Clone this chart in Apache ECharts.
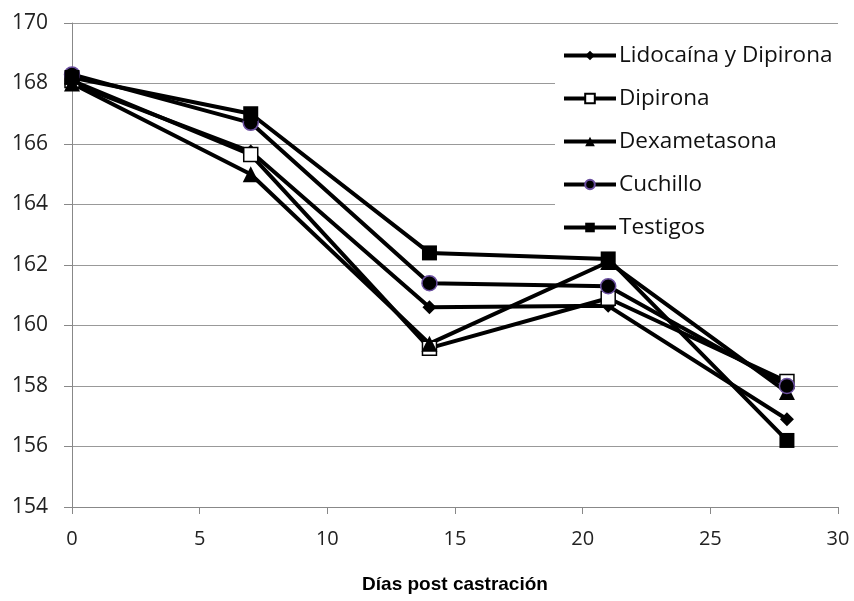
<!DOCTYPE html>
<html><head><meta charset="utf-8">
<script src="https://cdn.jsdelivr.net/npm/echarts@6/dist/echarts.min.js"></script>
<style>html,body{margin:0;padding:0;background:#fff}#c{width:854px;height:601px}</style>
</head><body><div id="c"></div>
<script>
const days = [0, 7, 14, 21, 28];
const lidocaina = [168.0, 165.75, 160.6, 160.65, 156.9];
const dipirona = [168.1, 165.65, 159.25, 160.9, 158.15];
const dexametasona = [168.0, 165.0, 159.4, 162.1, 157.8];
const cuchillo = [168.3, 166.7, 161.4, 161.3, 158.0];
const testigos = [168.2, 167.0, 162.4, 162.2, 156.2];
const yTicks = [154, 156, 158, 160, 162, 164, 166, 168, 170];
const xTicks = [0, 5, 10, 15, 20, 25, 30];

const font = "'Open Sans', 'Noto Sans', sans-serif";
function pairs(v){ return days.map((d,i)=>[d, v[i]]); }
function ser(name, data, symbol, size, style){
  return {name, type:'line', data:pairs(data), symbol, symbolSize:size,
    lineStyle:{color:'#000', width:4}, itemStyle:style, z:2,
    emphasis:{disabled:true}};
}
const chart = echarts.init(document.getElementById('c'));
chart.setOption({
  animation:false,
  backgroundColor:'#fff',
  grid:{left:72, right:16, top:23, bottom:94},
  xAxis:{type:'value', min:0, max:30, interval:5,
    axisLine:{lineStyle:{color:'#888', width:1}},
    axisTick:{show:true, length:7, lineStyle:{color:'#888'}},
    splitLine:{show:false},
    axisLabel:{color:'#222', fontSize:20, fontFamily:font, margin:22},
    name:'Días post castración', nameLocation:'middle', nameGap:68,
    nameTextStyle:{color:'#000', fontSize:19, fontWeight:'bold', fontFamily:"'Liberation Sans', Arial, sans-serif"}
  },
  yAxis:{type:'value', min:154, max:170, interval:2,
    axisLine:{show:true, lineStyle:{color:'#888', width:1}},
    axisTick:{show:true, length:8, lineStyle:{color:'#888'}},
    splitLine:{show:true, lineStyle:{color:'#999', width:1}},
    axisLabel:{color:'#222', fontSize:21, fontFamily:font, margin:24}
  },
  legend:{orient:'vertical', left:555, top:40, itemWidth:52, itemHeight:12, itemGap:20,
    backgroundColor:'#fff', padding:[4,8,6,7],
    lineStyle:{width:4, color:'#000'},
    textStyle:{color:'#111', fontSize:22.5, fontFamily:font, padding:[0,0,0,-2]},
    data:['Lidocaína y Dipirona','Dipirona','Dexametasona','Cuchillo','Testigos']
  },
  series:[
    ser('Lidocaína y Dipirona', lidocaina, 'diamond', 14, {color:'#000'}),
    ser('Dipirona', dipirona, 'rect', 14, {color:'#fff', borderColor:'#000', borderWidth:1.5}),
    ser('Dexametasona', dexametasona, 'triangle', 16, {color:'#000'}),
    ser('Cuchillo', cuchillo, 'circle', 15, {color:'#000', borderColor:'#6b4fa0', borderWidth:1.5}),
    ser('Testigos', testigos, 'rect', 15, {color:'#000'})
  ]
});
</script></body></html>
